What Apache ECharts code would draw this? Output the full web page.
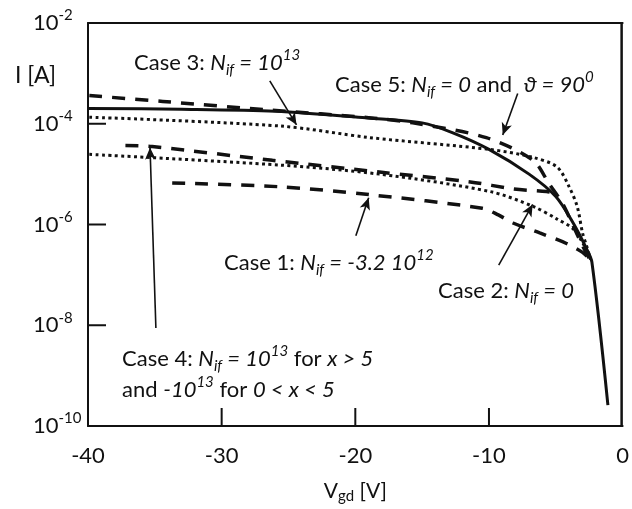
<!DOCTYPE html>
<html>
<head>
<meta charset="utf-8">
<script src="https://cdn.jsdelivr.net/npm/echarts@6/dist/echarts.min.js"></script>
<style>
  html, body { margin: 0; padding: 0; background: #fff; overflow: hidden; }
  #chart { width: 632px; height: 509px; }
</style>
</head>
<body>
<div id="chart"></div>
<script>
// Drain current I [A] versus gate-drain voltage V_gd [V], one [V, I] pair per point.
const baseline = [
  [-40, 2.0e-4], [-33, 1.94e-4], [-26, 1.77e-4], [-19, 1.3e-4], [-15, 1.04e-4],
  [-12.7, 6.6e-5], [-10, 3.1e-5], [-7, 1.0e-5], [-5, 3.6e-6], [-3.7, 1.07e-6],
  [-2.7, 3.3e-7], [-2.3, 1.8e-7], [-1.1, 2.6e-10]
];
const case1 = [
  [-33.7, 6.7e-6], [-25.6, 5.6e-6], [-18.9, 3.9e-6], [-10.5, 2.1e-6], [-9.3, 1.55e-6],
  [-8.2, 1.07e-6], [-6.2, 6.8e-7], [-4.2, 4.2e-7], [-3.0, 2.8e-7], [-2.4, 2.0e-7]
];
const case2 = [
  [-39.9, 2.47e-5], [-25.6, 1.51e-5], [-18.2, 1.0e-5], [-9.9, 4.5e-6], [-6.7, 2.29e-6],
  [-4.9, 1.28e-6], [-3.7, 8.2e-7], [-3.0, 4.4e-7], [-2.4, 2.1e-7]
];
const case3 = [
  [-39.9, 1.35e-4], [-25.6, 9.0e-5], [-18.9, 5.3e-5], [-9.9, 3.08e-5], [-6.7, 2.15e-5],
  [-4.9, 1.38e-5], [-4.0, 5.6e-6], [-3.4, 2.29e-6], [-3.0, 6.8e-7], [-2.7, 3.8e-7],
  [-2.4, 2.0e-7]
];
const case4 = [
  [-37.2, 3.69e-5], [-35.2, 3.52e-5], [-26.2, 1.88e-5], [-18.2, 1.1e-5], [-11.4, 7.0e-6],
  [-8.2, 5.1e-6], [-5.7, 4.5e-6], [-5.3, 4.3e-6]
];
const case5 = [
  [-39.9, 3.63e-4], [-34.4, 2.77e-4], [-26.2, 1.85e-4], [-19, 1.32e-4], [-15.7, 1.04e-4],
  [-10.2, 5.3e-5], [-6.7, 1.88e-5], [-5.5, 6.4e-6], [-4.5, 2.62e-6], [-3.7, 9.4e-7],
  [-3.0, 3.8e-7], [-2.4, 1.9e-7]
];

// Arrow pointers from each caption to its curve: [tail, head]
const arrows = [
  [[-26.4, 7.1e-4], [-24.4, 9.5e-5]],   // Case 3
  [[-7.85, 3.97e-4], [-8.97, 6.0e-5]],  // Case 5
  [[-19.96, 6.0e-7], [-19.0, 3.4e-6]],  // Case 1
  [[-9.27, 1.56e-7], [-6.73, 2.5e-6]],  // Case 2
  [[-34.92, 8.8e-9], [-35.36, 3.37e-5]] // Case 4
];

// Axis ranges and the inner tick marks
const xRange = { min: -40, max: 0, step: 10 };
const yRange = { min: 1e-10, max: 1e-2 };
const xTickValues = [-30, -20, -10];
const yTickValues = [1e-4, 1e-6, 1e-8];

const FONT = 'Lato, "Open Sans", sans-serif';
const INK = '#111';
const TICK_LEN = 18;

const chart = echarts.init(document.getElementById('chart'), null, { renderer: 'canvas' });

function lineSeries(name, data, width, dash) {
  return {
    name: name,
    type: 'line',
    data: data,
    smooth: 0.3,
    showSymbol: false,
    symbol: 'none',
    silent: true,
    lineStyle: { color: INK, width: width, type: dash, cap: 'butt' },
    z: 3
  };
}

// Short inward tick marks placed through the axes' own scales
function tickSeries(points, dx, dy) {
  return {
    type: 'custom',
    silent: true,
    data: points,
    z: 5,
    renderItem: function (params, api) {
      const p = api.coord([api.value(0), api.value(1)]);
      return {
        type: 'line',
        shape: { x1: p[0], y1: p[1], x2: p[0] + dx, y2: p[1] + dy },
        style: { stroke: INK, lineWidth: 2 }
      };
    }
  };
}

// Rich-text styles for the captions (regular, italic, super/subscript)
const capRich = {
  r: { fontFamily: FONT, fontSize: 22, fill: INK, lineHeight: 30, verticalAlign: 'middle' },
  i: { fontFamily: FONT, fontSize: 22, fontStyle: 'italic', fill: INK, lineHeight: 30, verticalAlign: 'middle' },
  sup: { fontFamily: FONT, fontSize: 15, fontStyle: 'italic', fill: INK, verticalAlign: 'top' },
  sub: { fontFamily: FONT, fontSize: 15, fontStyle: 'italic', fill: INK, verticalAlign: 'bottom' }
};

function caption(x, y, text) {
  return {
    type: 'text',
    x: x, y: y,
    silent: true,
    style: { text: text, rich: capRich, verticalAlign: 'middle', align: 'left', fill: INK }
  };
}

const texts = [
  {
    type: 'text', x: 15, y: 76, silent: true,
    style: { text: 'I [A]', fontFamily: FONT, fontSize: 23, fill: INK, verticalAlign: 'middle' }
  },
  caption(134, 63, '{r|Case 3: }{i|N}{sub|if}{i| = 10}{sup|13}'),
  caption(335, 85, '{r|Case 5: }{i|N}{sub|if}{i| = 0}{r| and  }{i|\u03D1 = 90}{sup|0}'),
  caption(224, 263, '{r|Case 1: }{i|N}{sub|if}{i| = -3.2 10}{sup|12}'),
  caption(438, 291, '{r|Case 2: }{i|N}{sub|if}{i| = 0}'),
  caption(122, 359, '{r|Case 4: }{i|N}{sub|if}{i| = 10}{sup|13}{r| for }{i|x > 5}'),
  caption(122, 390, '{r|and }{i|-10}{sup|13}{r| for }{i|0 < x < 5}')
];

const option = {
  animation: false,
  backgroundColor: '#fff',
  grid: { left: 88, right: 9, top: 23, bottom: 75 },
  xAxis: [{
    type: 'value',
    min: xRange.min, max: xRange.max, interval: xRange.step,
    axisLine: { show: true, onZero: false, lineStyle: { color: INK, width: 2 } },
    axisTick: { show: false },
    splitLine: { show: false },
    axisLabel: { color: INK, fontFamily: FONT, fontSize: 22, margin: 19 },
    name: '{v|V}{s|gd}{v| [V]}',
    nameLocation: 'middle',
    nameGap: 52,
    nameTextStyle: {
      rich: {
        v: { fontFamily: FONT, fontSize: 21, color: INK, lineHeight: 26 },
        s: { fontFamily: FONT, fontSize: 15, color: INK, verticalAlign: 'bottom', lineHeight: 26 }
      }
    }
  }, {
    // top side of the plot frame
    type: 'value',
    position: 'top',
    min: 0, max: 1,
    axisLine: { show: true, onZero: false, lineStyle: { color: INK, width: 2 } },
    axisTick: { show: false },
    axisLabel: { show: false },
    splitLine: { show: false }
  }],
  yAxis: {
    type: 'log',
    logBase: 10,
    min: yRange.min, max: yRange.max, interval: 2,
    axisLine: { show: true, onZero: false, lineStyle: { color: INK, width: 2 } },
    axisTick: { show: false },
    splitLine: { show: false },
    minorTick: { show: false },
    axisLabel: {
      align: 'left',
      margin: 55,
      formatter: function (v) {
        const e = Math.round(Math.log10(v));
        return '{b|10}{e|' + e + '}';
      },
      rich: {
        b: { fontFamily: FONT, fontSize: 22, color: INK, lineHeight: 30 },
        e: { fontFamily: FONT, fontSize: 15, color: INK, verticalAlign: 'top', lineHeight: 30 }
      }
    }
  },
  series: [
    lineSeries('Baseline', baseline, 3, 'solid'),
    lineSeries('Case 1', case1, 3.5, [13, 10]),
    lineSeries('Case 2', case2, 3, [3, 3.4]),
    lineSeries('Case 3', case3, 3, [3, 3.4]),
    lineSeries('Case 4', case4, 3.5, [13, 10]),
    lineSeries('Case 5', case5, 3.5, [13, 10]),
    tickSeries(yTickValues.map(function (v) { return [xRange.min, v]; }), TICK_LEN, 0),
    tickSeries(xTickValues.map(function (v) { return [v, yRange.min]; }), 0, -TICK_LEN),
    {
      name: 'pointers',
      type: 'line',
      data: [],
      silent: true,
      markLine: {
        silent: true,
        animation: false,
        symbol: ['none', 'arrow'],
        symbolSize: [8, 12],
        label: { show: false },
        lineStyle: { color: INK, width: 1.6, type: 'solid' },
        emphasis: { disabled: true },
        data: arrows.map(function (a) {
          return [{ coord: a[0] }, { coord: a[1] }];
        })
      }
    }
  ],
  graphic: texts
};

chart.setOption(option);

// Right side of the plot box, placed with the axes' own mapping
const finder = { xAxisIndex: 0, yAxisIndex: 0 };
const topRight = chart.convertToPixel(finder, [xRange.max, yRange.max]);
const bottomRight = chart.convertToPixel(finder, [xRange.max, yRange.min]);
const rightEdge = {
  type: 'line',
  silent: true,
  z: 10,
  shape: {
    x1: topRight[0] - 1, y1: topRight[1],
    x2: bottomRight[0] - 1, y2: bottomRight[1]
  },
  style: { stroke: INK, lineWidth: 2.5 }
};
chart.setOption({ graphic: texts.concat([rightEdge]) }, { replaceMerge: ['graphic'] });
</script>
</body>
</html>
